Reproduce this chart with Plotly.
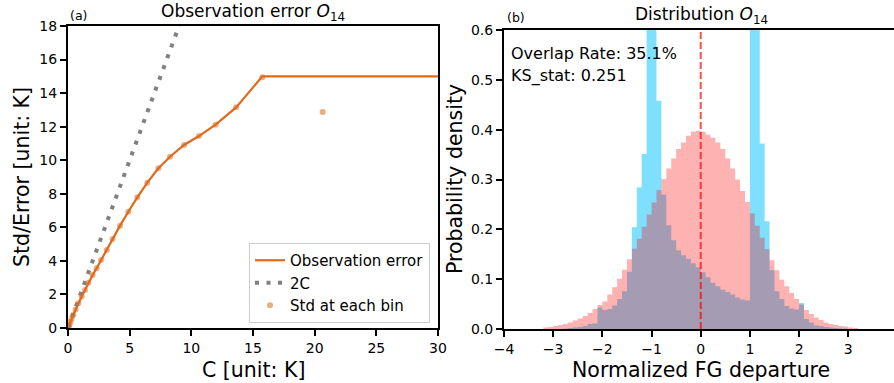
import plotly.graph_objects as go

# ---------------- data: panel (a) ----------------
std_c = [0.05, 0.12, 0.20, 0.30, 0.43, 0.62, 0.84, 1.11, 1.38, 1.65, 2.00, 2.32, 2.68,
         3.14, 3.62, 4.22, 4.89, 5.62, 6.43, 7.33, 8.27, 9.41, 10.62, 11.97, 13.63,
         15.76, 20.65]
std_val = [0.08, 0.20, 0.36, 0.55, 0.78, 1.10, 1.48, 1.88, 2.27, 2.70, 3.16, 3.56, 4.05,
           4.65, 5.30, 6.10, 6.93, 7.79, 8.66, 9.52, 10.21, 10.91, 11.44, 12.12, 13.15,
           14.94, 12.87]
obs_err_c = [0.0, 0.05, 0.12, 0.20, 0.30, 0.43, 0.62, 0.84, 1.11, 1.38, 1.65, 2.00, 2.32,
             2.68, 3.14, 3.62, 4.22, 4.89, 5.62, 6.43, 7.33, 8.27, 9.41, 10.62, 11.97,
             13.63, 15.76, 30.0]
obs_err_val = [0.0, 0.08, 0.20, 0.36, 0.55, 0.78, 1.10, 1.48, 1.88, 2.27, 2.70, 3.16, 3.56,
               4.05, 4.65, 5.30, 6.10, 6.93, 7.79, 8.66, 9.52, 10.21, 10.91, 11.44, 12.12,
               13.15, 15.0, 15.0]
two_c_x = [0.0, 15.0]
two_c_y = [0.0, 30.0]

# ---------------- data: panel (b) ----------------
hist_bin_left = [-3.2, -3.1, -3.0, -2.9, -2.8, -2.7, -2.6, -2.5, -2.4, -2.3, -2.2, -2.1,
                 -2.0, -1.9, -1.8, -1.7, -1.6, -1.5, -1.4, -1.3, -1.2, -1.1, -1.0, -0.9,
                 -0.8, -0.7, -0.6, -0.5, -0.4, -0.3, -0.2, -0.1, 0.0, 0.1, 0.2, 0.3,
                 0.4, 0.5, 0.6, 0.7, 0.8, 0.9, 1.0, 1.1, 1.2, 1.3, 1.4, 1.5,
                 1.6, 1.7, 1.8, 1.9, 2.0, 2.1, 2.2, 2.3, 2.4, 2.5, 2.6, 2.7,
                 2.8, 2.9, 3.0, 3.1]
density_obs = [0.0, 0.0, 0.0, 0.0, 0.001, 0.002, 0.003, 0.004, 0.006, 0.010, 0.011, 0.043,
               0.038, 0.040, 0.047, 0.060, 0.076, 0.115, 0.204, 0.284, 0.351, 0.95, 0.95, 0.458,
               0.270, 0.208, 0.178, 0.158, 0.148, 0.141, 0.132, 0.124, 0.114, 0.104, 0.093, 0.086,
               0.079, 0.074, 0.069, 0.063, 0.059, 0.057, 0.95, 0.95, 0.372, 0.216, 0.118, 0.076,
               0.060, 0.046, 0.041, 0.039, 0.052, 0.020, 0.013, 0.007, 0.006, 0.004, 0.003, 0.002,
               0.001, 0.001, 0.0, 0.0]
density_ref = [0.003, 0.004, 0.006, 0.008, 0.010, 0.013, 0.017, 0.021, 0.026, 0.032, 0.040, 0.048,
               0.055, 0.069, 0.084, 0.101, 0.119, 0.140, 0.161, 0.181, 0.205, 0.230, 0.254, 0.279,
               0.301, 0.322, 0.342, 0.361, 0.374, 0.388, 0.396, 0.398, 0.396, 0.390, 0.384, 0.374,
               0.361, 0.342, 0.322, 0.300, 0.277, 0.255, 0.232, 0.207, 0.183, 0.160, 0.138, 0.118,
               0.099, 0.086, 0.072, 0.060, 0.049, 0.038, 0.030, 0.023, 0.018, 0.013, 0.010, 0.008,
               0.006, 0.005, 0.003, 0.002]
bin_width = 0.1
mean_departure = 0.0
overlap_text = "Overlap Rate: 35.1%"
ks_text = "KS_stat: 0.251"

# ---------------- figure ----------------
W, H = 894, 383
FONT = "DejaVu Sans"
ORANGE = "#de6a1c"


def fx(p):
    return p / W


def fy(p):
    return 1 - p / H


fig = go.Figure()

fig.add_trace(go.Scatter(x=obs_err_c, y=obs_err_val, mode="lines", name="Observation error",
                         line=dict(color=ORANGE, width=2.2), xaxis="x", yaxis="y"))
fig.add_trace(go.Scatter(x=two_c_x, y=two_c_y, mode="lines", name="2C",
                         line=dict(color="gray", width=4, dash="4px,7.5px"), xaxis="x", yaxis="y"))
fig.add_trace(go.Scatter(x=std_c, y=std_val, mode="markers", name="Std at each bin",
                         marker=dict(color="rgba(222,106,28,0.55)", size=6, line=dict(width=0)),
                         xaxis="x", yaxis="y"))

# histograms drawn as filled step outlines (bins of equal width, left edges given)
edges = hist_bin_left + [round(hist_bin_left[-1] + bin_width, 2)]
for dens, col in ((density_obs, "rgba(0,191,255,0.5)"), (density_ref, "rgba(255,0,0,0.3)")):
    fig.add_trace(go.Scatter(x=edges, y=dens + [dens[-1]], mode="lines", line_shape="hv",
                             line=dict(width=0, color=col), fill="tozeroy", fillcolor=col,
                             showlegend=False, hoverinfo="skip", xaxis="x2", yaxis="y2"))

fig.add_shape(type="line", xref="x2", yref="y2 domain", x0=mean_departure, x1=mean_departure,
              y0=0, y1=1, line=dict(color="rgba(255,0,0,0.7)", width=2, dash="7px,3px"))

axis_common = dict(showline=True, linewidth=2, linecolor="black", ticks="outside", ticklen=6,
                   tickwidth=2, tickcolor="black", showgrid=False, zeroline=False,
                   automargin=False,
                   tickfont=dict(family=FONT, size=14, color="black"))

fig.update_layout(
    width=W, height=H, margin=dict(l=0, r=0, t=0, b=0, autoexpand=False),
    plot_bgcolor="white", paper_bgcolor="white",
    font=dict(family=FONT, color="black"),
    xaxis=dict(domain=[fx(68), fx(438)], range=[0, 30], tickvals=[0, 5, 10, 15, 20, 25, 30],
               mirror=True, anchor="y", **axis_common),
    yaxis=dict(domain=[fy(328), fy(26)], range=[0, 18], tickvals=list(range(0, 19, 2)),
               mirror=True, anchor="x", **axis_common),
    xaxis2=dict(domain=[fx(504), 1.0], range=[-4, 3.93], tickvals=[-4, -3, -2, -1, 0, 1, 2, 3],
                mirror=True, anchor="y2", **axis_common),
    yaxis2=dict(domain=[fy(329), fy(30)], range=[0, 0.6],
                tickvals=[0, 0.1, 0.2, 0.3, 0.4, 0.5, 0.6], tickformat=".1f",
                mirror=False, anchor="x2", **axis_common),
    legend=dict(x=fx(430), xanchor="right", y=fy(323), yanchor="bottom",
                bordercolor="#cccccc", borderwidth=1, bgcolor="rgba(255,255,255,0.8)",
                font=dict(family=FONT, size=15, color="black"), itemwidth=30),
)

ann = []
# titles
ann.append(dict(text="Observation error <i>O</i><sub>14</sub>", x=fx(253), y=fy(12.5),
                xanchor="center", yanchor="middle", font=dict(size=17)))
ann.append(dict(text="Distribution <i>O</i><sub>14</sub>", x=fx(701), y=fy(15.5),
                xanchor="center", yanchor="middle", font=dict(size=17)))
ann.append(dict(text="(a)", x=fx(68), y=fy(16), xanchor="left", yanchor="middle",
                font=dict(size=12.5)))
ann.append(dict(text="(b)", x=fx(505), y=fy(17.5), xanchor="left", yanchor="middle",
                font=dict(size=12.5)))
# axis titles
ann.append(dict(text="C [unit: K]", x=fx(253), y=fy(370), xanchor="center", yanchor="middle",
                font=dict(size=20.5)))
ann.append(dict(text="Normalized FG departure", x=fx(701), y=fy(370), xanchor="center",
                yanchor="middle", font=dict(size=20.5)))
ann.append(dict(text="Std/Error [unit: K]", x=fx(22), y=fy(177), xanchor="center",
                yanchor="middle", textangle=-90, font=dict(size=20.5)))
ann.append(dict(text="Probability density", x=fx(455), y=fy(179), xanchor="center",
                yanchor="middle", textangle=-90, font=dict(size=20.5)))
# stats text
ann.append(dict(text=overlap_text, x=fx(509), y=fy(53), xanchor="left", yanchor="middle",
                font=dict(size=16)))
ann.append(dict(text=ks_text, x=fx(509), y=fy(76), xanchor="left", yanchor="middle",
                font=dict(size=16)))

for a in ann:
    a.update(xref="paper", yref="paper", showarrow=False)
    a["font"] = dict(family=FONT, color="black", **a["font"])
fig.update_layout(annotations=ann)

fig.write_html("out.html")
